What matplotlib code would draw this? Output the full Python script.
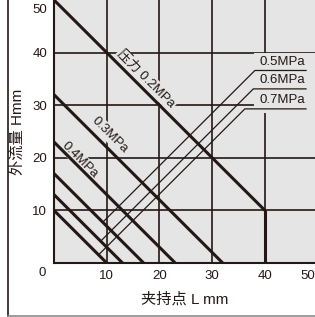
import numpy as np
import matplotlib.pyplot as plt
from matplotlib.lines import Line2D

plt.rcParams['font.family'] = ['Liberation Sans', 'Noto Sans CJK SC', 'DejaVu Sans']

# pressure curves: H = c - L, each runs from L=0 until L_end
pressures = ['0.2', '0.3', '0.4', '0.5', '0.6', '0.7']
intercepts = [50, 32, 23, 17, 13, 10]
line_end = [40, 32, 23, 17, 13, 10]

# leader lines for 0.5/0.6/0.7 (start L on the curve, end point of the leader)
leader_start = [9.25, 8.85, 8.45]
leader_end_L = [38.1, 37.8, 36.2]
leader_end_H = [36.6, 33.1, 29.3]
underline_end = 47.8

xticks = [10, 20, 30, 40, 48.1]
xtick_labels = ['10', '20', '30', '40', '50']
yticks = [10, 20, 30, 40, 48.4]
ytick_labels = ['10', '20', '30', '40', '50']
grid_vals = [10, 20, 30, 40]

ink = '#231815'
bg = '#e5e5e5'

fig = plt.figure(figsize=(3.15, 3.17), dpi=100)
ax = fig.add_axes([54/315, 54/317, 1 - 54/315, 1 - 54/317])
ax.set_facecolor(bg)
ax.set_xlim(0, 49.5)
ax.set_ylim(0, 50)

for g in grid_vals:
    ax.axvline(g, color=ink, lw=1.2, zorder=1)
    ax.axhline(g, color=ink, lw=1.2, zorder=1)

# mask behind the right-hand labels
ax.add_patch(plt.Rectangle((37.9, 28.6), 12, 11.4, facecolor=bg, edgecolor='none', zorder=2))

for c, m in zip(intercepts, line_end):
    ax.plot([0, m], [c, c - m], color=ink, lw=2.2, zorder=3, solid_capstyle='butt')
    if c - m > 0:
        ax.plot([m, m], [c - m, 0], color=ink, lw=2.2, zorder=3, solid_capstyle='butt')

for i, p in enumerate(pressures[3:]):
    c = intercepts[3 + i]
    L0 = leader_start[i]
    ax.plot([L0, leader_end_L[i], underline_end], [c - L0, leader_end_H[i], leader_end_H[i]],
            color=ink, lw=0.9, zorder=3)
    ax.text(underline_end - 0.1, leader_end_H[i] + 0.5, p + 'MPa', ha='right', va='bottom',
            fontsize=9.5, color=ink, zorder=4)

box = dict(facecolor=bg, edgecolor='none', pad=1.0)
ax.text(17.5, 35.0, '压力 0.2MPa', rotation=-45, ha='center', va='center', fontsize=9.5,
        color=ink, bbox=box, zorder=2.5, rotation_mode='anchor')
ax.text(10.6, 24.4, '0.3MPa', rotation=-45, ha='center', va='center', fontsize=9.5,
        color=ink, bbox=box, zorder=2.5, rotation_mode='anchor')
ax.text(4.9, 19.6, '0.4MPa', rotation=-45, ha='center', va='center', fontsize=9.5,
        color=ink, bbox=box, zorder=2.5, rotation_mode='anchor')

ax.set_xticks(xticks)
ax.set_xticklabels(xtick_labels)
ax.set_yticks(yticks)
ax.set_yticklabels(ytick_labels)
ax.tick_params(length=0, labelsize=9.5, labelcolor=ink, pad=5)
ax.text(-2.2, -1.9, '0', ha='center', va='center', fontsize=9.5, color=ink, clip_on=False)

for s in ['top', 'right']:
    ax.spines[s].set_visible(False)
for s in ['left', 'bottom']:
    ax.spines[s].set_color(ink)
    ax.spines[s].set_linewidth(1.5)

ax.set_xlabel('夹持点 L mm', fontsize=11, color=ink, labelpad=7)
ax.set_ylabel('外流量 Hmm', fontsize=11, color=ink, labelpad=5)

fig.add_artist(Line2D([7.5/315, 7.5/315], [0.004, 1], color=ink, lw=1.2))
fig.add_artist(Line2D([7.5/315, 1], [0.004, 0.004], color='#8c8c8c', lw=1.2))

fig.savefig('out.png', dpi=100)
